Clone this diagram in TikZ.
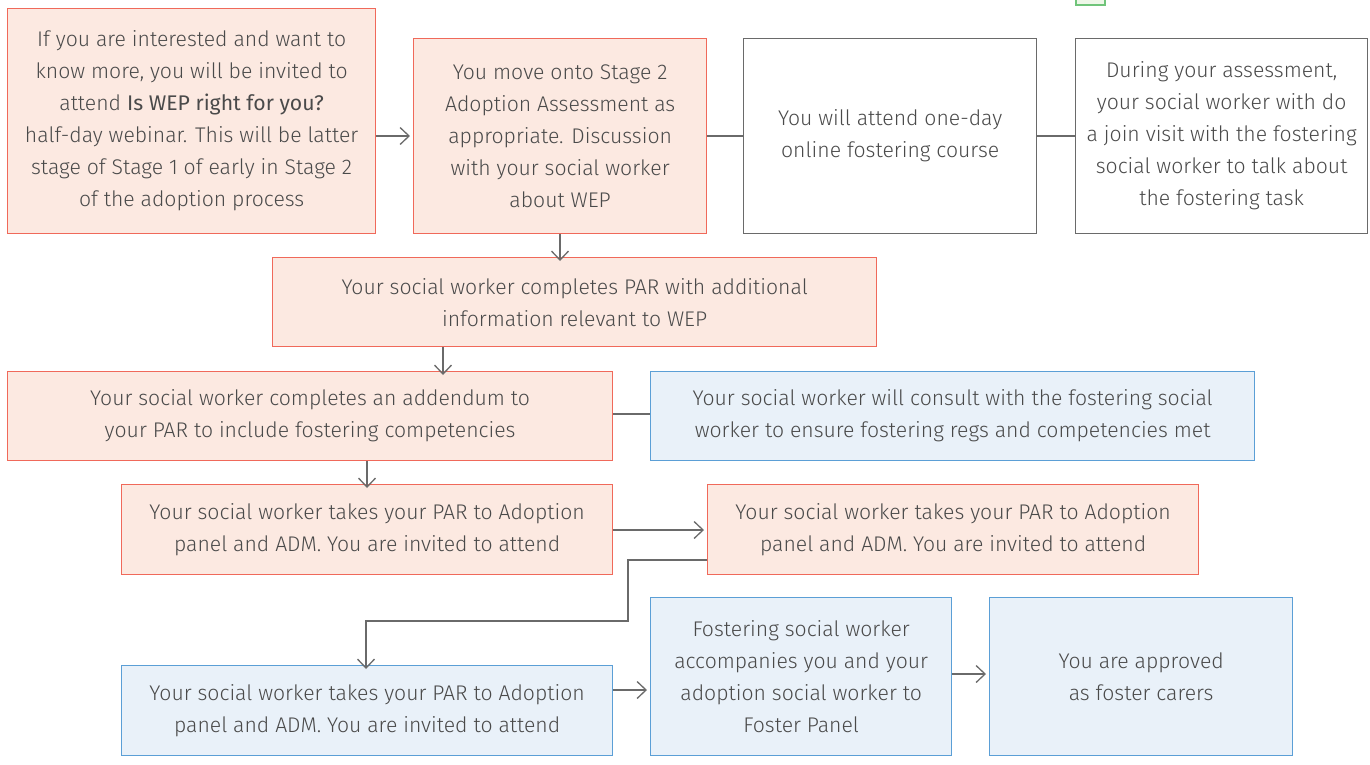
\documentclass[tikz,border=0pt]{standalone}
\usepackage{fontspec}
\setmainfont{Fira Sans Light}[BoldFont={Fira Sans}]
\usetikzlibrary{arrows.meta}
\definecolor{pinkfill}{HTML}{FCE9E1}
\definecolor{pinkdraw}{HTML}{F0695A}
\definecolor{bluefill}{HTML}{E9F1F9}
\definecolor{bluedraw}{HTML}{5B9FD6}
\definecolor{graydraw}{HTML}{6A6A6A}
\definecolor{txt}{HTML}{4A4A4A}
\definecolor{greenfill}{HTML}{EEF7E8}
\definecolor{greendraw}{HTML}{70C47A}
\tikzset{
  base/.style={anchor=north west, align=center, text=txt, line width=1.3pt, inner sep=0pt,
    font=\fontsize{21.2}{32}\selectfont},
  pinkbox/.style={base, fill=pinkfill, draw=pinkdraw},
  bluebox/.style={base, fill=bluefill, draw=bluedraw},
  whitebox/.style={base, fill=white, draw=graydraw},
  conn/.style={draw=graydraw, line width=1.3pt},
  arr/.style={conn, -{Straight Barb[length=9pt,width=17pt,line width=1.3pt]}},
}
\begin{document}
\begin{tikzpicture}[x=1pt,y=-1pt]
\useasboundingbox (0,0) rectangle (1370,764);
\draw[fill=greenfill, draw=greendraw, line width=1.3pt] (1076,-6) rectangle (1105,5);
\node[pinkbox, minimum width=368pt, minimum height=225pt] (A) at (7,8)
  {If you are interested and want to\\know more, you will be invited to\\attend \textbf{Is WEP right for you?}\\half-day webinar. This will be latter\\stage of Stage 1 of early in Stage 2\\of the adoption process};
\node[pinkbox, minimum width=293pt, minimum height=195pt] (B) at (413,38)
  {You move onto Stage 2\\Adoption Assessment as\\appropriate. Discussion\\with your social worker\\about WEP};
\node[whitebox, minimum width=293pt, minimum height=195pt] (C) at (743,38)
  {You will attend one-day\\online fostering course};
\node[whitebox, minimum width=292pt, minimum height=195pt] (D) at (1075,38)
  {During your assessment,\\your social worker with do\\a join visit with the fostering\\social worker to talk about\\the fostering task};
\node[pinkbox, minimum width=604pt, minimum height=89pt] (E) at (272,257)
  {Your social worker completes PAR with additional\\information relevant to WEP};
\node[pinkbox, minimum width=605pt, minimum height=89pt] (F) at (7,371)
  {Your social worker completes an addendum to\\your PAR to include fostering competencies};
\node[bluebox, minimum width=604pt, minimum height=89pt] (G) at (650,371)
  {Your social worker will consult with the fostering social\\worker to ensure fostering regs and competencies met};
\node[pinkbox, minimum width=491pt, minimum height=90pt] (H) at (121,484)
  {Your social worker takes your PAR to Adoption\\panel and ADM. You are invited to attend};
\node[pinkbox, minimum width=491pt, minimum height=90pt] (I) at (707,484)
  {Your social worker takes your PAR to Adoption\\panel and ADM. You are invited to attend};
\node[bluebox, minimum width=491pt, minimum height=90pt] (J) at (121,665)
  {Your social worker takes your PAR to Adoption\\panel and ADM. You are invited to attend};
\node[bluebox, minimum width=301pt, minimum height=158pt] (K) at (650,597)
  {Fostering social worker\\accompanies you and your\\adoption social worker to\\Foster Panel};
\node[bluebox, minimum width=303pt, minimum height=158pt] (L) at (989,597)
  {You are approved\\as foster carers};
% connectors
\draw[arr] (A.east |- 0,136) -- ([xshift=-3pt]B.west |- 0,136);
\draw[conn] (B.east |- 0,136) -- (C.west |- 0,136);
\draw[conn] (C.east |- 0,136) -- (D.west |- 0,136);
\draw[arr] (B.south -| 560,0) -- ([yshift=-4pt]E.north -| 560,0);
\draw[arr] (E.south -| 443,0) -- ([yshift=-4pt]F.north -| 443,0);
\draw[conn] (F.east |- 0,414) -- (G.west |- 0,414);
\draw[arr] (F.south -| 367,0) -- ([yshift=-4pt]H.north -| 367,0);
\draw[arr] (H.east |- 0,530) -- ([xshift=-3pt]I.west |- 0,530);
\coordinate (t1) at (628,560);
\coordinate (t2) at (628,621);
\coordinate (t3) at (366,621);
\draw[arr] (I.west |- t1) -- (t1) -- (t2) -- (t3) -- ([yshift=-4pt]J.north -| t3);
\draw[arr] (J.east |- 0,690) -- ([xshift=-3pt]K.west |- 0,690);
\draw[arr] (K.east |- 0,674) -- ([xshift=-3pt]L.west |- 0,674);
\end{tikzpicture}
\end{document}
